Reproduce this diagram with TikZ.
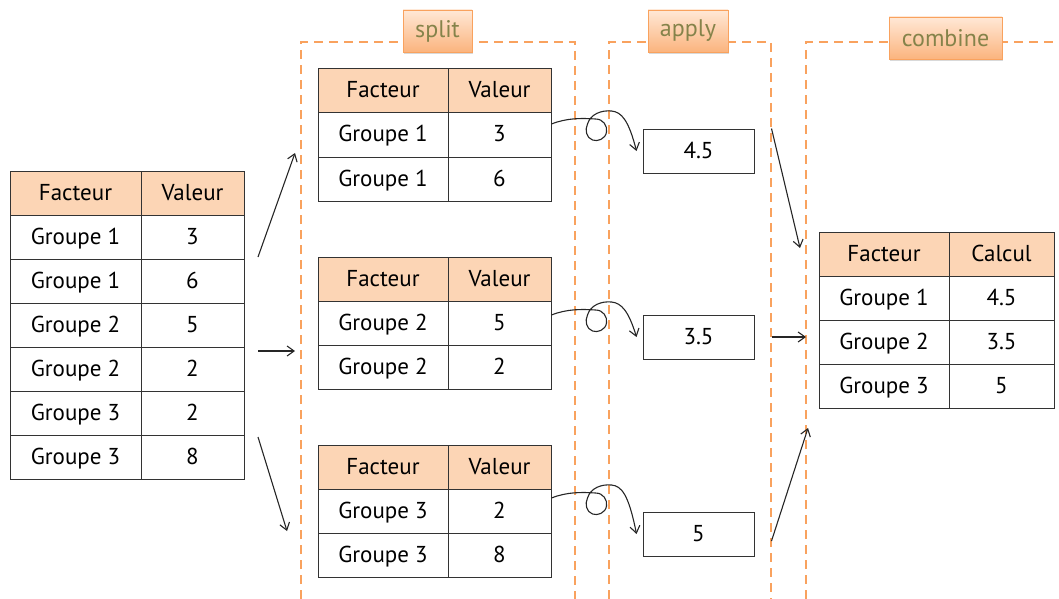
\documentclass[tikz,border=0pt]{standalone}
\usepackage{fontspec}
\setmainfont{PT Sans}
\usetikzlibrary{arrows.meta,shadows}
\definecolor{hdrfill}{HTML}{FCD5B5}
\definecolor{grpline}{HTML}{F9A25E}
\definecolor{tagtext}{HTML}{85834A}
\definecolor{tagtop}{HTML}{FFE8D6}
\definecolor{tagbot}{HTML}{FBB47E}
\tikzset{
  cell/.style={draw=black!80, line width=1pt, minimum height=44pt, inner sep=0pt,
    text height=16pt, text depth=2pt, font=\fontsize{23}{26}\selectfont},
  hdr/.style={cell, fill=hdrfill},
  valbox/.style={cell, minimum width=111pt},
  grp/.style={draw=grpline, line width=1.6pt, dash pattern=on 9pt off 6pt},
  tag/.style={draw=grpline, line width=0.8pt, top color=tagtop, bottom color=tagbot, text=tagtext,
    drop shadow={shadow xshift=1pt, shadow yshift=-2pt, opacity=0.3}, minimum height=42pt, inner xsep=8pt,
    font=\fontsize{24}{27}\selectfont},
  arr/.style={-{Straight Barb[length=7pt,width=10pt]}, line width=1.1pt, black!85},
}
% curly loop arrow from a split table to its result box
\newcommand{\loopArrow}[2]{%
  \begin{scope}[shift={(#1)}]
    \draw[arr] (0,0) .. controls (15,-6) and (30,-6) .. (44,-5)
      .. controls (52,-5) and (56,2) .. (55,8)
      .. controls (54,15) and (46,18) .. (41,16)
      .. controls (35,14) and (33,6) .. (36,0)
      .. controls (39,-10) and (50,-14) .. (60,-13)
      .. controls (70,-12) and (77,-4) .. (#2);
  \end{scope}}
\begin{document}
\begin{tikzpicture}[x=1pt,y=-1pt]
\useasboundingbox (0,0) rectangle (1059,599);
% groups
\draw[grp] (301,599) -- (301,42) -- (575,42) -- (575,599);
\draw[grp] (609,599) -- (609,42) -- (771,42) -- (771,599);
\draw[grp] (806,599) -- (806,42) -- (1062,42);
\node[tag, minimum width=69pt] (tagsplit) at (437.5,31) {split};
\node[tag, minimum width=80pt] (tagapply) at (688,31) {apply};
\node[tag, minimum width=113pt] (tagcombine) at (945.5,38) {combine};
% source table
\node[hdr, minimum width=131pt] (src01) at (75.5,193) {Facteur};
\node[hdr, minimum width=103pt] (src02) at (192.5,193) {Valeur};
\node[cell, minimum width=131pt] (src11) at (75.5,237) {Groupe 1};
\node[cell, minimum width=103pt] (src12) at (192.5,237) {3};
\node[cell, minimum width=131pt] (src21) at (75.5,281) {Groupe 1};
\node[cell, minimum width=103pt] (src22) at (192.5,281) {6};
\node[cell, minimum width=131pt] (src31) at (75.5,325) {Groupe 2};
\node[cell, minimum width=103pt] (src32) at (192.5,325) {5};
\node[cell, minimum width=131pt] (src41) at (75.5,369) {Groupe 2};
\node[cell, minimum width=103pt] (src42) at (192.5,369) {2};
\node[cell, minimum width=131pt] (src51) at (75.5,413) {Groupe 3};
\node[cell, minimum width=103pt] (src52) at (192.5,413) {2};
\node[cell, minimum width=131pt] (src61) at (75.5,457) {Groupe 3};
\node[cell, minimum width=103pt] (src62) at (192.5,457) {8};
% split tables
\node[hdr, minimum width=130pt] (sa01) at (383,91) {Facteur};
\node[hdr, minimum width=103pt] (sa02) at (499.5,91) {Valeur};
\node[cell, minimum width=130pt] (sa11) at (383,135) {Groupe 1};
\node[cell, minimum width=103pt] (sa12) at (499.5,135) {3};
\node[cell, minimum width=130pt] (sa21) at (383,179) {Groupe 1};
\node[cell, minimum width=103pt] (sa22) at (499.5,179) {6};
\node[hdr, minimum width=130pt] (sb01) at (383,279) {Facteur};
\node[hdr, minimum width=103pt] (sb02) at (499.5,279) {Valeur};
\node[cell, minimum width=130pt] (sb11) at (383,323) {Groupe 2};
\node[cell, minimum width=103pt] (sb12) at (499.5,323) {5};
\node[cell, minimum width=130pt] (sb21) at (383,367) {Groupe 2};
\node[cell, minimum width=103pt] (sb22) at (499.5,367) {2};
\node[hdr, minimum width=130pt] (sc01) at (383,467) {Facteur};
\node[hdr, minimum width=103pt] (sc02) at (499.5,467) {Valeur};
\node[cell, minimum width=130pt] (sc11) at (383,511) {Groupe 3};
\node[cell, minimum width=103pt] (sc12) at (499.5,511) {2};
\node[cell, minimum width=130pt] (sc21) at (383,555) {Groupe 3};
\node[cell, minimum width=103pt] (sc22) at (499.5,555) {8};
% apply results
\node[valbox] (resa) at (698.5,151) {4.5};
\node[valbox] (resb) at (698.5,337) {3.5};
\node[valbox] (resc) at (698.5,534) {5};
% combined table
\node[hdr, minimum width=130pt] (cmb01) at (884,254) {Facteur};
\node[hdr, minimum width=105pt] (cmb02) at (1001.5,254) {Calcul};
\node[cell, minimum width=130pt] (cmb11) at (884,298) {Groupe 1};
\node[cell, minimum width=105pt] (cmb12) at (1001.5,298) {4.5};
\node[cell, minimum width=130pt] (cmb21) at (884,342) {Groupe 2};
\node[cell, minimum width=105pt] (cmb22) at (1001.5,342) {3.5};
\node[cell, minimum width=130pt] (cmb31) at (884,386) {Groupe 3};
\node[cell, minimum width=105pt] (cmb32) at (1001.5,386) {5};
% arrow ends
\coordinate (out1) at (258,257);
\coordinate (out2) at (258,351);
\coordinate (out3) at (258,437);
\coordinate (in1) at (295,153);
\coordinate (in2) at (295,351);
\coordinate (in3) at (287,531);
\coordinate (cin1) at (800,248);
\coordinate (cin2) at (806,337);
\coordinate (cin3) at (808,428);
\draw[arr] (out1) -- (in1);
\draw[arr] (out2) -- (in2);
\draw[arr] (out3) -- (in3);
% loops into apply
\loopArrow{[yshift=11pt]sa12.east}{[xshift=-6pt]resa.west}
\loopArrow{[yshift=8pt]sb12.east}{[xshift=-6pt]resb.west}
\loopArrow{[yshift=13pt]sc12.east}{[xshift=-6pt]resc.west}
% into combine
\draw[arr] (resa.north east) ++(17,0) -- (cin1);
\draw[arr] ([xshift=17pt]resb.east) -- (cin2);
\draw[arr] ([xshift=17pt,yshift=-7pt]resc.east) -- (cin3);
\end{tikzpicture}
\end{document}
